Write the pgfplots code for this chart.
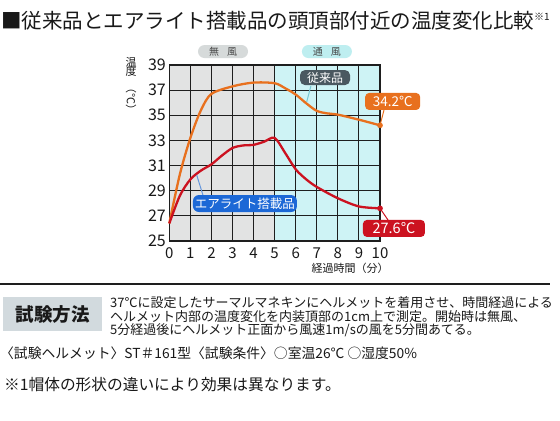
\documentclass[border=0pt]{standalone}
\usepackage{pgfplots}
\pgfplotsset{compat=1.18}
\usepackage{fontspec}
\setmainfont{Noto Sans CJK JP}
\definecolor{orangeC}{RGB}{232,112,30}
\definecolor{redC}{RGB}{204,18,32}
\definecolor{grayBG}{RGB}{226,227,227}
\definecolor{cyanBG}{RGB}{206,243,245}
\definecolor{gridC}{RGB}{30,30,30}
\definecolor{slateC}{RGB}{74,88,96}
\definecolor{blueC}{RGB}{28,104,214}
\definecolor{pillG}{RGB}{214,218,218}
\definecolor{pillC}{RGB}{190,238,240}
\definecolor{boxG}{RGB}{210,218,222}
\definecolor{txt}{RGB}{25,25,25}
\definecolor{lineB}{RGB}{100,150,220}
\definecolor{lineC}{RGB}{120,200,210}
\newcommand{\fs}[1]{\fontsize{#1bp}{#1bp}\selectfont}
\begin{document}
\begin{tikzpicture}[x=1bp,y=1bp]
\useasboundingbox (0,0) rectangle (560,420);
\fill[white] (0,0) rectangle (560,420);
% backgrounds of the two phases (axis spans x 169.3..380, y 179..355)
\fill[grayBG] (169.3,179) rectangle (274.65,355);
\fill[cyanBG] (274.65,179) rectangle (380,355);
\begin{axis}[
  at={(169.3bp,179bp)}, anchor=south west,
  scale only axis, width=210.7bp, height=176bp,
  xmin=0, xmax=10, ymin=25, ymax=39,
  xtick={0,...,10}, ytick={25,27,...,39},
  grid=major, major grid style={draw=gridC, line width=1.1bp},
  axis line style={draw=gridC, line width=1.6bp},
  tick style={draw=none},
  clip=false,
  /pgf/number format/assume math mode=true,
  yticklabel style={font=\fs{16}, text=txt},
  xticklabel style={font=\fs{15}, text=txt, yshift=-3bp},
]
\addplot[orangeC, line width=2.3bp, smooth, tension=0.5] coordinates {
(0,26.4) (0.5,30.3) (1,33.2) (1.5,35.4) (2,36.7) (3,37.3) (4,37.6) (5,37.55)
(5.5,37.15) (6,36.65) (6.5,35.95) (7,35.35) (7.5,35.15) (8,35.05) (9,34.65) (10,34.2)};
\addplot[redC, line width=2.3bp, smooth, tension=0.5] coordinates {
(0,26.4) (0.5,28.6) (1,29.9) (1.5,30.6) (2,31.1) (2.5,31.8) (3,32.4) (3.5,32.6)
(4,32.65) (4.5,32.9) (5,33.2) (5.5,32.0) (6,30.7) (6.5,29.9) (7,29.3) (8,28.4)
(9,27.75) (10,27.6)};
\addplot[only marks, mark=*, mark size=2.6bp, orangeC] coordinates {(10,34.2)};
\addplot[only marks, mark=*, mark size=2.6bp, redC] coordinates {(10,27.6)};
% connectors
\draw[lineC, line width=1bp] (axis cs:6.72,37.33) -- (axis cs:6.52,36.06);
\draw[orangeC, line width=1bp] (axis cs:10,34.2) -- (axis cs:10.19,35.42);
\draw[lineB, line width=1bp] (axis cs:1.30,30.25) -- (axis cs:1.61,28.58);
\draw[redC, line width=1bp] (axis cs:10,27.6) -- (axis cs:10.38,26.67);
% callouts
\node[fill=slateC, text=white, rounded corners=5bp, minimum width=50bp, minimum height=15bp, inner sep=0pt, font=\fs{12}] at (axis cs:7.39,38.0) {従来品};
\node[fill=orangeC, text=white, rounded corners=4bp, minimum width=55bp, minimum height=17bp, inner sep=0pt, font=\fs{13.5}] at (axis cs:10.6,36.1) {34.2℃};
\node[fill=blueC, text=white, rounded corners=6bp, minimum width=104bp, minimum height=17bp, inner sep=0pt, font=\fs{12.5}] at (axis cs:3.59,27.98) {エアライト搭載品};
\node[fill=redC, text=white, rounded corners=4bp, minimum width=62bp, minimum height=17bp, inner sep=0pt, font=\fs{14.5}] at (axis cs:10.66,26.0) {27.6℃};
% phase pills
\node[fill=pillG, text=txt!80, rounded corners=6.5bp, minimum width=50bp, minimum height=13bp, inner sep=0pt, font=\fs{10}] at (axis cs:2.55,40.07) {無\hspace{0.8em}風};
\node[fill=pillC, text=txt!80, rounded corners=6.5bp, minimum width=50bp, minimum height=13bp, inner sep=0pt, font=\fs{10}] at (axis cs:7.48,40.07) {通\hspace{0.8em}風};
\end{axis}
% axis labels
\node[font=\fs{11}, text=txt, align=center, inner sep=0pt, anchor=north] at (131,363) {温\\[-1.5bp]度\\[-4bp]\rotatebox{-90}{（℃）}};
\node[font=\fs{11}, text=txt, inner sep=0pt] at (350,152) {経過時間（分）};
% title
\node[font=\fs{20.5}, text=txt, inner sep=0pt, anchor=west] at (1,399) {■従来品とエアライト搭載品の頭頂部付近の温度変化比較\raisebox{0.4em}{\fs{10}※1}};
% separator
\draw[gridC, line width=2bp] (0,136) -- (550,136);
% test method box
\fill[boxG] (3,89) rectangle (102,123);
\node[font=\fs{18.5}\bfseries, text=txt, inner sep=0pt] at (52.5,106) {試験方法};
\node[font=\fs{13}, text=txt, inner sep=0pt, anchor=west] at (110,117) {37℃に設定したサーマルマネキンにヘルメットを着用させ、時間経過による};
\node[font=\fs{13}, text=txt, inner sep=0pt, anchor=west] at (110,103) {ヘルメット内部の温度変化を内装頂部の1cm上で測定。開始時は無風、};
\node[font=\fs{13}, text=txt, inner sep=0pt, anchor=west] at (110,90) {5分経過後にヘルメット正面から風速1m/sの風を5分間あてる。};
\node[font=\fs{13.8}, text=txt, inner sep=0pt, anchor=west] at (0,67) {〈試験ヘルメット〉ST＃161型〈試験条件〉○室温26℃ ○湿度50\%};
\node[font=\fs{15.7}, text=txt, inner sep=0pt, anchor=west] at (4,35) {※1帽体の形状の違いにより効果は異なります。};
\end{tikzpicture}
\end{document}
